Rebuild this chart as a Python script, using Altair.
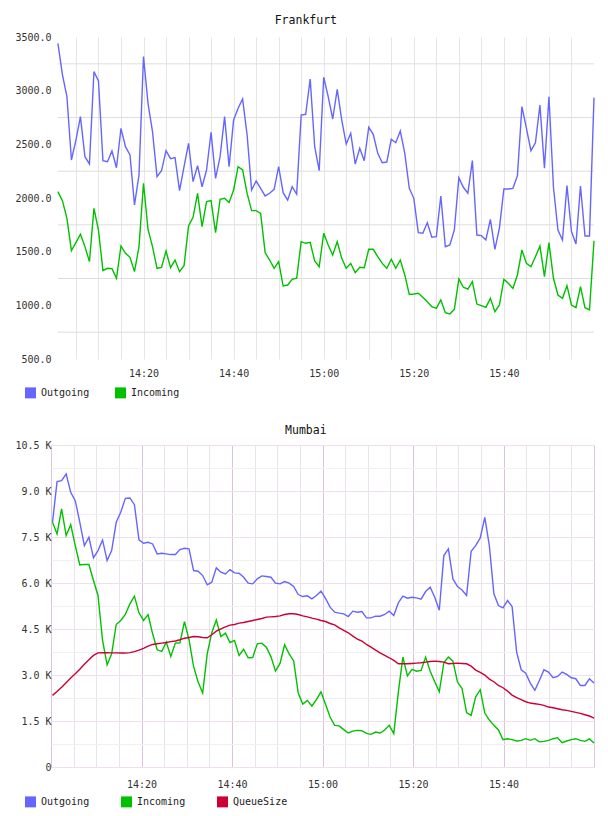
import altair as alt
import pandas as pd

# ---------------- data ----------------
series = ["Outgoing", "Incoming", "QueueSize"]
series_colors = ["#6666ff", "#00c000", "#cc0033"]

# Frankfurt: one sample per minute, 14:01 .. 16:00
fra_out = [3440, 3150, 2944, 2354, 2540, 2758, 2385, 2317, 3177, 3090,
           2348, 2338, 2438, 2282, 2649, 2478, 2401, 1935, 2214, 3317,
           2882, 2618, 2199, 2254, 2441, 2366, 2376, 2068, 2292, 2510,
           2152, 2301, 2105, 2261, 2612, 2183, 2385, 2758, 2292, 2727,
           2836, 2922, 2587, 2075, 2158, 2090, 2019, 2044, 2081, 2292,
           2050, 1980, 2105, 2035, 2773, 2780, 3109, 2478, 2254, 3125,
           2944, 2736, 3013, 2727, 2503, 2603, 2317, 2463, 2348, 2659,
           2593, 2416, 2329, 2335, 2547, 2515, 2624, 2416, 2090, 1997,
           1677, 1671, 1770, 1634, 1640, 2019, 1546, 1562, 1702, 2190,
           2100, 2044, 2348, 1655, 1649, 1609, 1801, 1522, 1718, 2084,
           2084, 2090, 2208, 2851, 2649, 2441, 2515, 2866, 2277, 2944,
           2100, 1702, 1609, 2115, 1687, 1571, 2112, 1646, 1646, 2935]
fra_in = [2059, 1975, 1811, 1509, 1584, 1662, 1547, 1407, 1904, 1702,
          1323, 1345, 1342, 1252, 1553, 1485, 1447, 1314, 1547, 2137,
          1708, 1547, 1345, 1354, 1506, 1351, 1422, 1314, 1370, 1739,
          1820, 2043, 1733, 1966, 1975, 1677, 1988, 1997, 1957, 2075,
          2292, 2261, 2043, 1882, 1882, 1857, 1491, 1422, 1345, 1407,
          1180, 1189, 1242, 1252, 1593, 1578, 1587, 1413, 1360, 1671,
          1562, 1469, 1593, 1438, 1345, 1391, 1304, 1354, 1351, 1522,
          1522, 1453, 1391, 1345, 1429, 1345, 1422, 1283, 1102, 1106,
          1112, 1075, 1034, 988, 972, 1050, 932, 919, 963, 1245,
          1168, 1152, 1220, 1012, 997, 981, 1065, 941, 1003, 1242,
          1205, 1158, 1283, 1516, 1391, 1360, 1453, 1553, 1267, 1584,
          1252, 1096, 1065, 1183, 1003, 978, 1174, 978, 957, 1602]

# Mumbai: 120 samples between 14:00:20 and 16:00
mum_out = [7980, 9304, 9337, 9554, 8957, 8686, 7980, 7220, 7492, 6818,
           7057, 7405, 6732, 7057, 7980, 8306, 8762, 8773, 8555, 7405,
           7296, 7329, 7274, 6949, 6970, 6949, 6927, 6927, 7090, 7133,
           7111, 6406, 6384, 6243, 5939, 6026, 6493, 6352, 6297, 6438,
           6330, 6319, 6189, 5993, 5972, 6134, 6232, 6210, 6189, 5993,
           5972, 6048, 5993, 5885, 5624, 5559, 5581, 5483, 5592, 5733,
           5500, 5212, 5049, 5016, 4995, 4908, 5082, 5049, 5071, 4864,
           4864, 4918, 4918, 4973, 5082, 4940, 5350, 5570, 5505, 5537,
           5516, 5472, 5722, 5863, 5537, 5110, 6894, 7111, 6134, 5885,
           5770, 5592, 7035, 7220, 7470, 8143, 7220, 5646, 5266, 5190,
           5429, 5233, 3746, 3171, 3062, 2736, 2498, 2823, 3171, 3095,
           2910, 2954, 3095, 3019, 2910, 2878, 2660, 2660, 2878, 2736]
mum_in = [7980, 7600, 8414, 7546, 7904, 7220, 6590, 6601, 6601, 6080,
          5592, 4126, 3334, 3692, 4647, 4778, 4973, 5320, 5570, 5027,
          4778, 4973, 4343, 3822, 3768, 4072, 3605, 4039, 4050, 4740,
          4150, 3280, 2770, 2411, 3690, 4380, 4790, 4256, 4365, 4060,
          4126, 3638, 3840, 3562, 3572, 4018, 4039, 3909, 3600, 3127,
          3377, 3985, 3690, 3460, 2411, 2050, 2172, 1990, 2200, 2450,
          2050, 1629, 1358, 1340, 1220, 1108, 1168, 1195, 1184, 1097,
          1065, 1141, 1108, 1206, 1358, 1086, 2440, 3583, 2970, 3182,
          3122, 3149, 3583, 3120, 2780, 2450, 3400, 3583, 3450, 2769,
          2560, 1776, 1684, 2290, 2520, 1760, 1530, 1358, 1206, 891,
          920, 891, 848, 869, 923, 869, 923, 820, 837, 869,
          923, 956, 790, 848, 891, 923, 869, 837, 915, 783]
mum_queue = [2335, 2460, 2600, 2750, 2900, 3040, 3190, 3350, 3500, 3640,
             3720, 3730, 3725, 3720, 3720, 3715, 3715, 3730, 3760, 3810,
             3870, 3940, 3996, 4020, 4039, 4060, 4090, 4110, 4150, 4200,
             4224, 4256, 4245, 4224, 4213, 4311, 4430, 4506, 4571, 4626,
             4647, 4690, 4712, 4745, 4777, 4810, 4843, 4886, 4897, 4908,
             4929, 4973, 4995, 4995, 4973, 4929, 4897, 4853, 4821, 4777,
             4745, 4680, 4636, 4539, 4452, 4376, 4267, 4170, 4105, 3996,
             3909, 3811, 3724, 3638, 3562, 3475, 3366, 3366, 3366, 3377,
             3388, 3399, 3420, 3442, 3453, 3442, 3420, 3366, 3377, 3388,
             3377, 3366, 3290, 3160, 3084, 2997, 2867, 2780, 2660, 2585,
             2476, 2346, 2259, 2194, 2128, 2085, 2063, 2042, 2009, 1955,
             1933, 1901, 1868, 1846, 1814, 1781, 1749, 1705, 1662, 1597]

# axis ticks / gridlines
grid_minutes = [(14, 5), (14, 10), (14, 15), (14, 20), (14, 25), (14, 30), (14, 35),
                (14, 40), (14, 45), (14, 50), (14, 55), (15, 0), (15, 5), (15, 10),
                (15, 15), (15, 20), (15, 25), (15, 30), (15, 35), (15, 40), (15, 45),
                (15, 50), (15, 55)]
fra_y_ticks = [500, 1000, 1500, 2000, 2500, 3000, 3500]
fra_y_grid = [750, 1250, 1750, 2250, 2750, 3250]
mum_y_ticks = [0, 750, 1500, 2250, 3000, 3750, 4500, 5250, 6000, 6750, 7500, 8250,
               9000, 9750, 10500]

# ---------------- tables ----------------
fra_times = pd.date_range("2024-01-01 14:01:00", periods=len(fra_out), freq="min")
mum_times = pd.date_range("2024-01-01 14:00:20", "2024-01-01 16:00:00", periods=len(mum_out))

fra_df = pd.concat([
    pd.DataFrame({"time": fra_times, "value": fra_out, "series": "Outgoing"}),
    pd.DataFrame({"time": fra_times, "value": fra_in, "series": "Incoming"}),
], ignore_index=True)
mum_df = pd.concat([
    pd.DataFrame({"time": mum_times, "value": mum_out, "series": "Outgoing"}),
    pd.DataFrame({"time": mum_times, "value": mum_in, "series": "Incoming"}),
    pd.DataFrame({"time": mum_times, "value": mum_queue, "series": "QueueSize"}),
], ignore_index=True)
fra_grid_df = pd.DataFrame({"value": fra_y_grid, "time": fra_times[0], "time2": fra_times[-1]})


def dt(h, m, s=0):
    return alt.DateTime(year=2024, month=1, date=1, hours=h, minutes=m, seconds=s)


FONT = "DejaVu Sans Mono"
grid_vals = [dt(h, m) for h, m in grid_minutes]
x_label_expr = "minutes(datum.value) % 20 == 0 ? timeFormat(datum.value, '%H:%M') : ''"


def panel(df, names, x_domain, y_domain, x_axis, y_axis, legend_y, col_pad,
          width, height, title, title_offset, view, grid_df=None):
    color_scale = alt.Scale(domain=names, range=series_colors[:len(names)])
    x = alt.X("time:T", scale=alt.Scale(domain=x_domain), axis=x_axis, title=None)
    y = alt.Y("value:Q", scale=alt.Scale(domain=y_domain, nice=False, zero=False),
              axis=y_axis, title=None)
    lines = alt.Chart(df).mark_line(strokeWidth=1.4).encode(
        x=x, y=y,
        color=alt.Color(
            "series:N", scale=color_scale,
            legend=alt.Legend(
                title=None, orient="none", legendX=-26, legendY=legend_y,
                direction="horizontal", columns=len(names), columnPadding=col_pad,
                symbolType="square", symbolSize=30, symbolStrokeWidth=5.5,
                symbolOpacity=1, labelFont=FONT, labelFontSize=10,
                labelColor="#222222", labelOffset=5, padding=0, rowPadding=0,
            ),
        ),
    )
    layers = [lines]
    if grid_df is not None:
        rules = alt.Chart(grid_df).mark_rule(color="#dddddd", strokeWidth=1).encode(
            x=x, x2="time2:T", y=y
        )
        layers = [rules, lines]
    return alt.layer(*layers).properties(
        width=width, height=height, view=view,
        title=alt.TitleParams(title, font=FONT, fontSize=11.5, fontWeight="normal",
                              color="#111111", anchor="middle", frame="bounds",
                              offset=title_offset),
    )


fra_x_axis = alt.Axis(values=grid_vals, labelExpr=x_label_expr, grid=True, gridColor="#e6e6e6",
                      ticks=False, domain=False, labelFont=FONT, labelFontSize=10,
                      labelColor="#333333", labelPadding=9, labelFlush=False)
fra_y_axis = alt.Axis(values=fra_y_ticks, format=".1f", grid=False,
                      ticks=False, domain=False, labelFont=FONT, labelFontSize=10,
                      labelColor="#333333", labelPadding=0)

mum_x_axis = alt.Axis(values=grid_vals, labelExpr=x_label_expr, grid=True,
                      gridColor={"condition": {"test": "minutes(datum.value) % 20 == 0",
                                               "value": "#dcc2dc"}, "value": "#ebe3eb"},
                      ticks=False, domain=False, labelFont=FONT, labelFontSize=10,
                      labelColor="#333333", labelPadding=12, labelFlush=False)
mum_y_axis = alt.Axis(values=mum_y_ticks,
                      labelExpr="datum.value % 1500 == 0 ? (datum.value == 0 ? '0\u00a0' : format(datum.value / 1000, '.1f') + ' K') : ''",
                      grid=True,
                      gridColor={"condition": {"test": "datum.value % 1500 == 0",
                                               "value": "#efdfef"}, "value": "#f3eef3"},
                      ticks=False, domain=False, labelFont=FONT, labelFontSize=10,
                      labelColor="#333333", labelPadding=0)

top = panel(fra_df, series[:2], [dt(13, 59, 28), dt(16, 0)], [500, 3500], fra_x_axis,
            fra_y_axis, 350, 16, 543, 322, "Frankfurt", 6,
            alt.ViewBackground(strokeWidth=0), grid_df=fra_grid_df)
bottom = panel(mum_df, series, [dt(14, 0), dt(16, 0)], [0, 10500], mum_x_axis, mum_y_axis,
               351, 22, 543, 322, "Mumbai", 4,
               alt.ViewBackground(stroke="#dcc6dc", strokeWidth=1))

chart = alt.concat(top, bottom, columns=1, spacing=17).resolve_scale(
    color="independent"
).resolve_legend(color="independent").properties(
    padding={"left": 14, "top": 14, "right": 8, "bottom": 4}
).configure_view(strokeWidth=0)

chart.save("out.html", embed_options={"renderer": "svg", "actions": False})
